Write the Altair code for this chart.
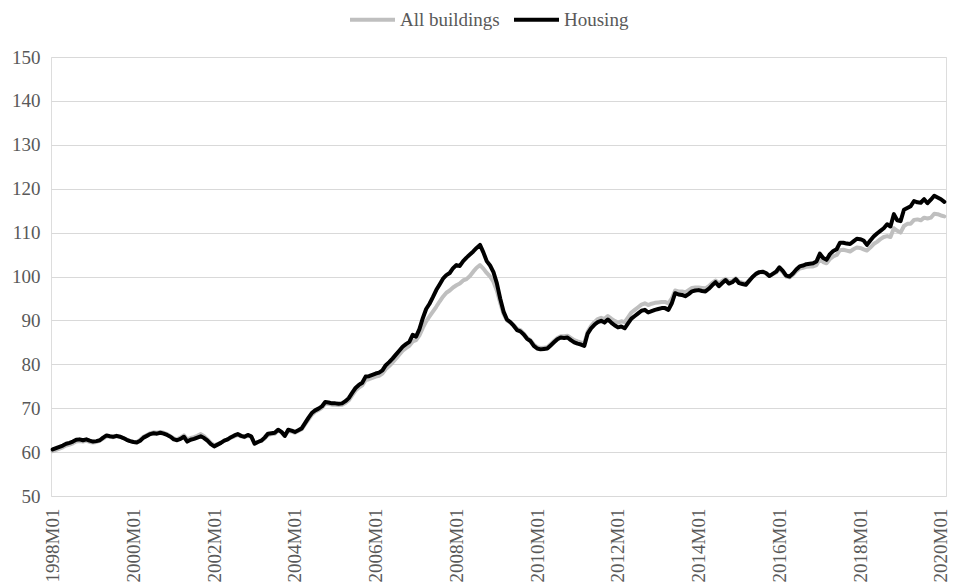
import altair as alt
import pandas as pd

# ---- data (monthly index, 1998M01 .. 2020M02) ----
months = [f"{1998 + i // 12}M{i % 12 + 1:02d}" for i in range(266)]

housing = [
    60.6, 60.9, 61.2, 61.5, 61.9, 62.1, 62.4, 62.8, 62.9, 62.7, 62.9, 62.6,   # 1998
    62.4, 62.5, 62.7, 63.3, 63.8, 63.6, 63.5, 63.7, 63.5, 63.2, 62.8, 62.5,   # 1999
    62.3, 62.2, 62.6, 63.3, 63.7, 64.1, 64.3, 64.2, 64.4, 64.2, 63.9, 63.5,   # 2000
    62.9, 62.7, 63.0, 63.5, 62.4, 62.8, 63.0, 63.3, 63.6, 63.2, 62.6, 61.8,   # 2001
    61.3, 61.7, 62.1, 62.6, 62.9, 63.4, 63.8, 64.1, 63.7, 63.5, 63.9, 63.6,   # 2002
    61.9, 62.3, 62.6, 63.3, 64.2, 64.3, 64.4, 65.1, 64.6, 63.7, 65.1, 64.9,   # 2003
    64.6, 65.0, 65.4, 66.6, 67.8, 68.9, 69.5, 69.9, 70.4, 71.4, 71.3, 71.1,   # 2004
    71.1, 71.0, 71.1, 71.6, 72.3, 73.5, 74.6, 75.3, 75.8, 77.2, 77.3, 77.6,   # 2005
    77.9, 78.1, 78.6, 79.8, 80.5, 81.3, 82.2, 83.1, 84.0, 84.6, 85.1, 86.7,   # 2006
    86.3, 88.0, 90.5, 92.6, 93.8, 95.3, 96.9, 98.2, 99.5, 100.3, 100.8, 101.9,  # 2007
    102.6, 102.4, 103.5, 104.3, 105.0, 105.7, 106.5, 107.2, 105.5, 103.5, 102.5, 101.0,  # 2008
    98.5, 95.0, 92.0, 90.2, 89.6, 88.8, 87.8, 87.5, 86.8, 85.8, 85.3, 84.2,   # 2009
    83.6, 83.4, 83.5, 83.6, 84.3, 85.0, 85.7, 86.1, 86.0, 86.1, 85.5, 85.0,   # 2010
    84.7, 84.5, 84.2, 87.0, 88.2, 89.0, 89.6, 89.9, 89.5, 90.2, 89.5, 88.9,   # 2011
    88.4, 88.6, 88.2, 89.3, 90.4, 91.0, 91.6, 92.2, 92.4, 91.8, 92.1, 92.4,   # 2012
    92.6, 92.8, 92.8, 92.4, 93.9, 96.2, 95.9, 95.8, 95.5, 96.0, 96.6, 96.8,   # 2013
    96.9, 96.7, 96.6, 97.2, 98.0, 98.7, 97.8, 98.5, 99.2, 98.4, 98.7, 99.4,   # 2014
    98.5, 98.3, 98.1, 99.0, 99.9, 100.6, 101.0, 101.1, 100.8, 100.1, 100.6, 101.1,  # 2015
    102.1, 101.3, 100.2, 100.0, 100.7, 101.6, 102.3, 102.5, 102.8, 102.9, 103.0, 103.4,  # 2016
    105.2, 104.2, 103.8, 105.1, 105.8, 106.2, 107.7, 107.7, 107.5, 107.4, 108.0, 108.6,  # 2017
    108.5, 108.2, 107.2, 108.2, 109.1, 109.8, 110.4, 111.0, 111.9, 111.4, 114.2, 112.8,  # 2018
    112.6, 115.2, 115.6, 116.0, 117.2, 116.9, 116.8, 117.6, 116.7, 117.5, 118.4, 118.0,  # 2019
    117.6, 117.0,                                                                # 2020
]

all_buildings = [
    60.2, 60.5, 60.8, 61.1, 61.5, 61.7, 62.0, 62.4, 62.5, 62.4, 62.6, 62.3,   # 1998
    62.2, 62.3, 62.6, 63.1, 63.6, 63.5, 63.4, 63.6, 63.5, 63.2, 62.8, 62.5,   # 1999
    62.3, 62.3, 62.8, 63.5, 63.9, 64.3, 64.5, 64.4, 64.6, 64.4, 64.1, 63.6,   # 2000
    63.1, 62.9, 63.3, 63.8, 62.9, 63.2, 63.4, 63.7, 64.1, 63.6, 62.9, 62.1,   # 2001
    61.6, 61.8, 62.2, 62.6, 62.9, 63.3, 63.6, 63.9, 63.6, 63.4, 63.7, 63.5,   # 2002
    62.0, 62.3, 62.6, 63.1, 63.9, 64.1, 64.2, 64.9, 64.5, 63.7, 64.8, 64.7,   # 2003
    64.4, 64.8, 65.2, 66.3, 67.4, 68.5, 69.2, 69.6, 70.1, 71.0, 71.0, 70.8,   # 2004
    70.8, 70.7, 70.8, 71.2, 71.8, 72.9, 74.0, 74.7, 75.2, 76.4, 76.6, 76.9,   # 2005
    77.2, 77.4, 77.9, 78.9, 79.6, 80.4, 81.3, 82.2, 83.1, 83.7, 84.2, 85.2,   # 2006
    85.5, 86.6, 88.3, 89.8, 90.9, 92.0, 93.1, 94.3, 95.4, 96.3, 96.8, 97.5,   # 2007
    98.0, 98.4, 99.1, 99.4, 100.1, 101.1, 102.0, 102.6, 101.8, 100.8, 100.0, 98.8,  # 2008
    96.8, 94.0, 91.5, 90.0, 89.6, 88.9, 88.1, 87.8, 87.0, 86.0, 85.5, 84.5,   # 2009
    83.9, 83.7, 83.8, 83.9, 84.6, 85.3, 86.0, 86.4, 86.4, 86.5, 86.0, 85.5,   # 2010
    85.2, 85.0, 84.8, 87.4, 88.7, 89.6, 90.3, 90.6, 90.3, 91.0, 90.4, 89.9,   # 2011
    89.5, 89.8, 89.6, 90.7, 91.8, 92.4, 93.0, 93.6, 93.9, 93.5, 93.8, 94.0,   # 2012
    94.1, 94.2, 94.2, 93.9, 95.0, 96.8, 96.6, 96.6, 96.4, 96.9, 97.4, 97.5,   # 2013
    97.5, 97.4, 97.3, 97.8, 98.5, 99.1, 98.4, 99.0, 99.5, 98.8, 99.0, 99.6,   # 2014
    98.8, 98.6, 98.4, 99.1, 99.9, 100.5, 100.9, 101.0, 100.7, 100.1, 100.5, 100.9,  # 2015
    101.7, 101.0, 100.0, 99.8, 100.4, 101.2, 101.8, 102.0, 102.2, 102.3, 102.3, 102.6,  # 2016
    104.0, 103.3, 103.0, 104.0, 104.6, 104.9, 106.0, 106.1, 105.9, 105.7, 106.2, 106.6,  # 2017
    106.5, 106.2, 105.9, 106.6, 107.4, 107.9, 108.5, 109.0, 109.2, 109.0, 111.0, 110.4,  # 2018
    110.0, 111.5, 112.0, 112.0, 112.9, 113.0, 112.8, 113.4, 113.2, 113.4, 114.3, 114.2,  # 2019
    113.9, 113.7,                                                                # 2020
]

series_names = ["All buildings", "Housing"]
series_colors = ["#BFBFBF", "#000000"]
x_tick_labels = [f"{y}M01" for y in range(1998, 2021, 2)]
y_ticks = [50, 60, 70, 80, 90, 100, 110, 120, 130, 140, 150]

df = pd.DataFrame({
    "month": months + months,
    "value": all_buildings + housing,
    "series": [series_names[0]] * len(months) + [series_names[1]] * len(months),
})

FONT = "Liberation Serif"
TXT = "#595959"

chart = (
    alt.Chart(df)
    .mark_line(strokeWidth=4, strokeJoin="round", strokeCap="round")
    .encode(
        x=alt.X(
            "month:O",
            sort=months,
            scale=alt.Scale(type="point", padding=0.5),
            axis=alt.Axis(
                values=x_tick_labels,
                labelAngle=270,
                title=None,
                domain=False,
                ticks=False,
                grid=False,
                labelPadding=12,
                labelFont=FONT,
                labelFontSize=19,
                labelColor=TXT,
            ),
        ),
        y=alt.Y(
            "value:Q",
            scale=alt.Scale(domain=[50, 150], nice=False, zero=False),
            axis=alt.Axis(
                values=y_ticks,
                title=None,
                domain=False,
                ticks=False,
                tickSize=0,
                grid=True,
                gridColor="#D9D9D9",
                gridWidth=1,
                labelPadding=11,
                labelFont=FONT,
                labelFontSize=19,
                labelColor=TXT,
            ),
        ),
        color=alt.Color(
            "series:N",
            scale=alt.Scale(domain=series_names, range=series_colors),
            legend=alt.Legend(
                title=None,
                orient="none",
                direction="horizontal",
                legendX=297,
                legendY=-62,
                offset=0,
                symbolType="stroke",
                symbolSize=2025,
                symbolStrokeWidth=4,
                labelFont=FONT,
                labelFontSize=19,
                labelColor=TXT,
                labelOffset=3,
                columnPadding=6,
                padding=0,
            ),
        ),
    )
    .properties(
        width=895,
        height=439,
        autosize=alt.AutoSizeParams(type="none"),
        padding={"left": 43, "top": 49, "right": 5, "bottom": 90},
    )
    .configure_view(stroke=None)
    .configure(background="white")
)

chart.save("out.html", embed_options={"renderer": "svg", "actions": False})
